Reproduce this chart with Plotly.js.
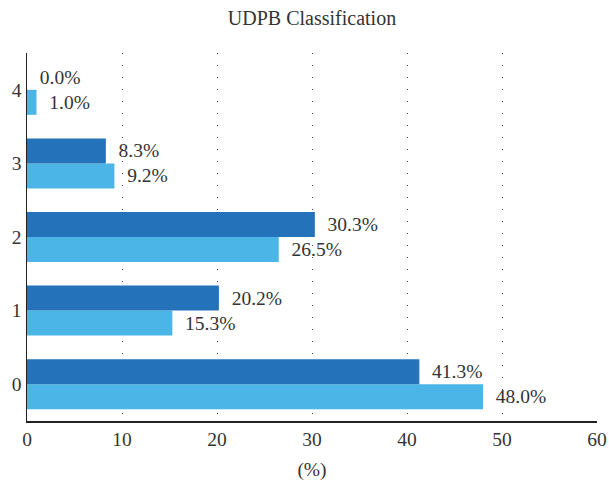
<!DOCTYPE html>
<html>
<head>
<meta charset="utf-8">
<script src="https://cdn.plot.ly/plotly-3.0.1.min.js"></script>
<style>html,body{margin:0;padding:0;background:#fff;}#chart{width:609px;height:481px;}</style>
</head>
<body>
<div id="chart"></div>
<script>
const categories = ["0", "1", "2", "3", "4"];
const darkValues = [41.3, 20.2, 30.3, 8.3, 0.0];
const lightValues = [48.0, 15.3, 26.5, 9.2, 1.0];
const xTicks = [0, 10, 20, 30, 40, 50, 60];

const fontFam = "Times New Roman, Liberation Serif, Tinos, DejaVu Serif, serif";
const pad = "\u00a0\u00a0";
function labels(vals) { return vals.map(v => pad + v.toFixed(1) + "%"); }

const txtFont = {family: fontFam, size: 19.5, color: "#333333"};
const traces = [
  {
    type: "bar", orientation: "h", y: categories, x: lightValues,
    marker: {color: "#4AB5E6"}, text: labels(lightValues),
    textposition: "outside", cliponaxis: false, constraintext: "none",
    textfont: txtFont, hoverinfo: "none"
  },
  {
    type: "bar", orientation: "h", y: categories, x: darkValues,
    marker: {color: "#2473BA"}, text: labels(darkValues),
    textposition: "outside", cliponaxis: false, constraintext: "none",
    textfont: txtFont, hoverinfo: "none"
  }
];

const layout = {
  width: 609, height: 481,
  margin: {l: 27, r: 12, t: 53, b: 60},
  paper_bgcolor: "#fff", plot_bgcolor: "#fff",
  showlegend: false,
  barmode: "group", bargap: 0.32, bargroupgap: 0,
  font: {family: fontFam, size: 19.5, color: "#333333"},
  title: {text: "UDPB Classification", x: 0.5, xref: "paper", y: 0.963, yanchor: "middle",
          font: {family: fontFam, size: 20, color: "#333333"}},
  xaxis: {
    range: [0, 60], tickvals: xTicks, ticktext: xTicks.map(String),
    showgrid: true, gridcolor: "#444444", gridwidth: 1, griddash: "1px,11px",
    zeroline: false, showline: true, linecolor: "#222222", linewidth: 1.5,
    ticks: "", ticklen: 0, tickfont: {family: fontFam, size: 19.5, color: "#333333"},
    title: {text: "(%)", standoff: 14, font: {family: fontFam, size: 19.5, color: "#333333"}},
    fixedrange: true
  },
  yaxis: {
    type: "category", range: [-0.5, 4.5],
    showgrid: false, zeroline: false, showline: true, linecolor: "#222222", linewidth: 1.5,
    ticks: "", ticklen: 0, tickfont: {family: fontFam, size: 19.5, color: "#333333"},
    fixedrange: true
  }
};

Plotly.newPlot("chart", traces, layout, {displayModeBar: false, staticPlot: true});
</script>
</body>
</html>
